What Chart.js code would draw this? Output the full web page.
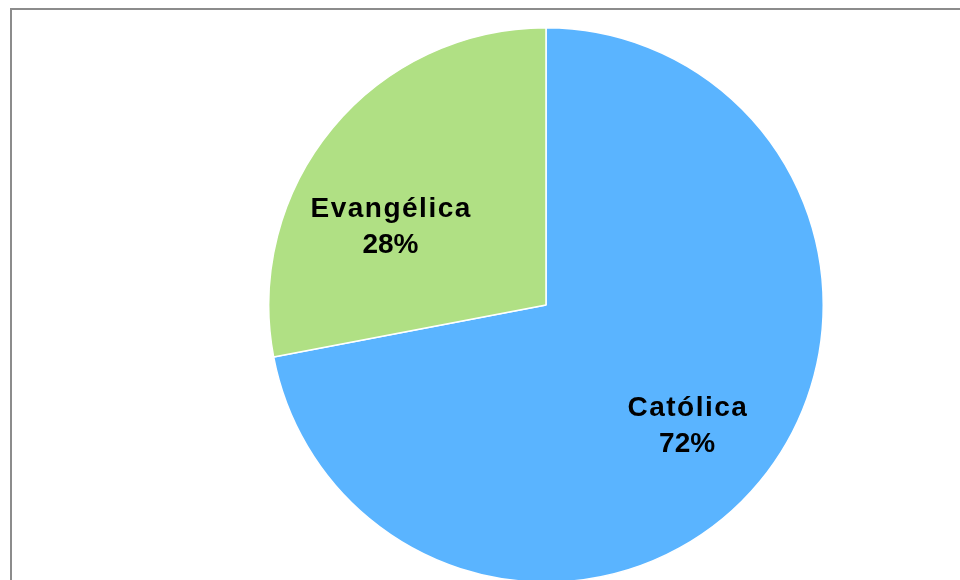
<!DOCTYPE html>
<html>
<head>
<meta charset="utf-8">
<script src="https://cdn.jsdelivr.net/npm/chart.js@4/dist/chart.umd.min.js"></script>
<style>
  html, body { margin: 0; padding: 0; width: 960px; height: 580px; overflow: hidden; background: #fff; }
  #frame { position: absolute; left: 10px; top: 8px; width: 1000px; height: 640px;
           border-top: 2px solid #8c8c8c; border-left: 2px solid #8c8c8c; box-sizing: border-box; }
  #wrap { position: absolute; left: 268px; top: 27px; width: 556px; height: 556px; }
</style>
</head>
<body>
<div id="frame"></div>
<div id="wrap"><canvas id="pie"></canvas></div>
<script>
// Religion breakdown
const categories = ['Católica', 'Evangélica'];
const shares = [72, 28];
const sliceColors = ['#5AB4FF', '#B0E084'];

// Per-slice label placement: fraction of radius along bisector, plus pixel nudge
const labelPlacement = [
  { frac: 0.67, dx: -2, dy: 3 },
  { frac: 0.63, dx: -21, dy: 34 }
];

const sliceLabels = {
  id: 'sliceLabels',
  afterDatasetsDraw(chart) {
    const ctx = chart.ctx;
    const meta = chart.getDatasetMeta(0);
    const spacing = 1.5;
    ctx.save();
    ctx.fillStyle = '#000';
    ctx.font = 'bold 28px "Liberation Sans", Arial, sans-serif';
    ctx.textAlign = 'center';
    ctx.textBaseline = 'middle';
    meta.data.forEach((arc, i) => {
      const p = arc.getProps(['x', 'y', 'startAngle', 'endAngle', 'outerRadius']);
      const mid = (p.startAngle + p.endAngle) / 2;
      const r = p.outerRadius * labelPlacement[i].frac;
      const x = p.x + Math.cos(mid) * r + labelPlacement[i].dx;
      const y = p.y + Math.sin(mid) * r + labelPlacement[i].dy;
      ctx.letterSpacing = spacing + 'px';
      ctx.fillText(categories[i], x + spacing / 2, y - 18);
      ctx.letterSpacing = '0px';
      ctx.fillText(shares[i] + '%', x, y + 18);
    });
    ctx.restore();
  }
};

new Chart(document.getElementById('pie'), {
  type: 'pie',
  data: {
    labels: categories,
    datasets: [{
      data: shares,
      backgroundColor: sliceColors,
      borderColor: '#ffffff',
      borderWidth: 1.5
    }]
  },
  options: {
    responsive: true,
    maintainAspectRatio: false,
    animation: false,
    layout: { padding: 0 },
    plugins: {
      legend: { display: false },
      tooltip: { enabled: false }
    }
  },
  plugins: [sliceLabels]
});
</script>
</body>
</html>
